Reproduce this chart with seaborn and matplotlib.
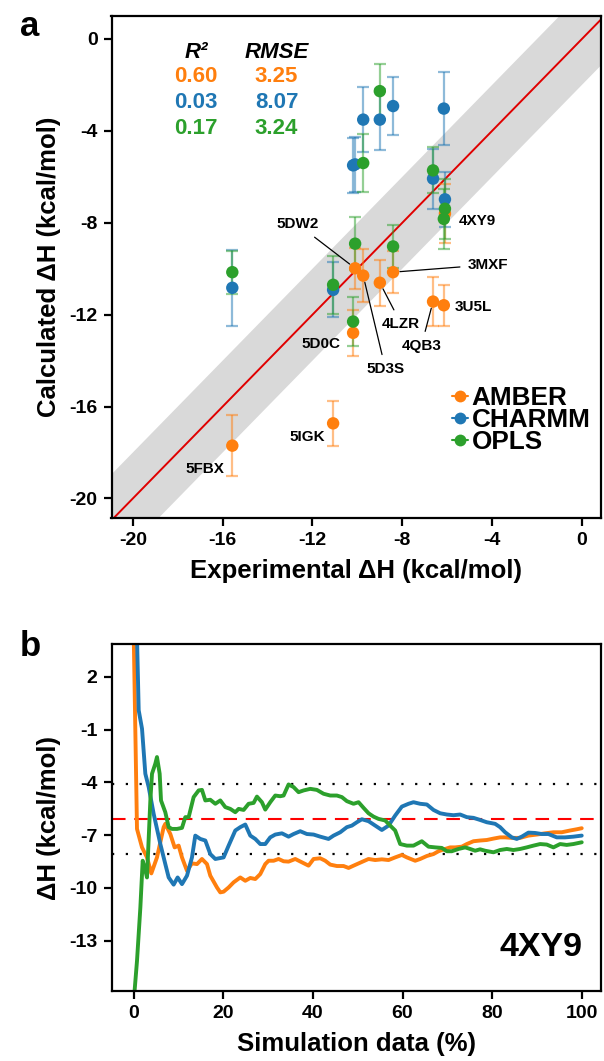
import numpy as np
import pandas as pd
import matplotlib
matplotlib.use("Agg")
import matplotlib.pyplot as plt
from matplotlib.lines import Line2D
import seaborn as sns

sns.set_style("ticks")
plt.rcParams['font.family'] = ['Liberation Sans', 'DejaVu Sans']
plt.rcParams['font.weight'] = 'bold'
plt.rcParams['axes.unicode_minus'] = False
for k in ['text.color', 'axes.labelcolor', 'xtick.color', 'ytick.color', 'axes.edgecolor']:
    plt.rcParams[k] = 'black'

# ---------------- Panel a data ----------------
compounds = ["5FBX", "5IGK", "5D0C", "5DW2", "5D3S", "4LZR", "3MXF", "4QB3", "3U5L", "4XY9"]
exp_dh = [-15.57, -11.08, -10.19, -10.10, -9.74, -9.00, -8.41, -6.63, -6.15, -6.10]
amber = [-17.70, -16.73, -12.79, -9.98, -10.30, -10.61, -10.15, -11.43, -11.59, -7.60]
amber_err = [1.34, 0.97, 1.00, 0.90, 1.16, 1.00, 0.90, 1.05, 0.90, 1.30]
charmm = [-10.83, -10.92, -5.50, -5.46, -3.51, -3.51, -2.92, -6.08, -3.03, -6.98]
charmm_err = [1.65, 1.20, 1.20, 1.20, 1.40, 1.34, 1.25, 1.30, 1.60, 1.20]
opls = [-10.15, -10.70, -12.30, -8.91, -5.40, -2.27, -9.03, -5.72, -7.83, -7.39]
opls_err = [0.94, 1.25, 1.05, 1.15, 1.25, 1.20, 0.92, 1.00, 1.30, 1.30]

force_fields = ["AMBER", "CHARMM", "OPLS"]
colors = ["#ff7f0e", "#1f77b4", "#2ca02c"]
r2_vals = ["0.60", "0.03", "0.17"]
rmse_vals = ["3.25", "8.07", "3.24"]
band_halfwidth = 2.0

# ---------------- Panel b data (4XY9 running average) ----------------
amber_x = [0.0, 0.74, 1.86, 2.97, 3.94, 5.20, 6.69, 7.06, 8.18, 9.14, 10.04, 10.78, 11.90, 13.01, 14.13,
           15.24, 16.36, 17.10, 18.59, 19.33, 20.07, 21.19, 22.30, 23.79, 24.91, 26.02, 27.14, 28.25,
           29.37, 30.11, 31.23, 32.34, 33.46, 34.57, 36.06, 37.55, 39.03, 40.15, 41.64, 42.75, 43.87,
           45.35, 46.84, 47.96, 49.07, 50.56, 52.42, 53.90, 55.39, 56.88, 58.36, 59.85, 60.97, 62.83,
           63.94, 65.43, 66.91, 68.03, 69.52, 70.63, 71.75, 73.23, 74.35, 75.84, 77.32, 78.81, 80.30,
           81.78, 82.90, 84.39, 86.25, 88.10, 89.96, 91.82, 93.68, 95.54, 97.40, 98.88, 100.0]
amber_y = [4.5, -6.65, -7.70, -8.27, -9.18, -8.27, -6.55, -6.36, -6.94, -7.70, -7.60, -8.27, -9.03, -8.61,
           -8.65, -8.36, -8.65, -9.31, -9.98, -10.26, -10.22, -9.98, -9.69, -9.41, -9.60, -9.44, -9.50,
           -9.22, -8.65, -8.46, -8.46, -8.36, -8.49, -8.51, -8.36, -8.55, -8.74, -8.36, -8.32, -8.46,
           -8.68, -8.76, -8.76, -8.87, -8.74, -8.57, -8.36, -8.42, -8.38, -8.42, -8.27, -8.13, -8.27,
           -8.46, -8.36, -8.19, -8.08, -7.92, -7.79, -7.70, -7.70, -7.66, -7.51, -7.35, -7.31, -7.28,
           -7.20, -7.13, -7.13, -7.16, -7.16, -7.03, -6.97, -6.90, -6.84, -6.84, -6.74, -6.67, -6.61]

charmm_x = [0.4, 1.12, 1.86, 2.60, 3.35, 4.46, 5.95, 7.06, 7.81, 8.92, 9.81, 10.78, 11.90, 13.01, 13.75,
            14.87, 15.99, 17.10, 18.22, 20.07, 21.19, 22.68, 23.79, 24.91, 26.02, 27.14, 28.25, 29.37,
            30.48, 31.60, 33.09, 34.57, 35.69, 37.17, 38.66, 40.15, 41.64, 43.49, 44.61, 46.10, 47.58,
            48.70, 49.81, 50.93, 52.42, 53.90, 55.39, 56.88, 58.36, 59.85, 61.34, 62.45, 63.94, 65.43,
            66.91, 68.40, 69.89, 71.38, 72.86, 74.35, 75.84, 77.32, 78.81, 80.67, 81.78, 82.90, 84.39,
            85.50, 86.62, 88.10, 89.59, 91.08, 92.57, 94.42, 96.28, 98.14, 100.0]
charmm_y = [8.0, 0.10, -0.95, -3.51, -4.27, -5.79, -7.51, -8.65, -9.41, -9.82, -9.41, -9.79, -9.31, -8.27,
            -7.03, -7.22, -7.31, -8.08, -8.36, -8.27, -7.60, -6.74, -6.55, -6.40, -7.03, -7.22, -7.51,
            -7.51, -7.13, -6.97, -6.90, -7.09, -6.94, -6.78, -6.94, -6.97, -7.09, -7.22, -7.03, -6.84,
            -6.55, -6.46, -6.27, -6.10, -6.21, -6.46, -6.71, -6.46, -5.89, -5.38, -5.22, -5.13, -5.22,
            -5.26, -5.57, -5.76, -5.83, -5.87, -5.83, -5.98, -6.02, -6.14, -6.27, -6.36, -6.55, -6.84,
            -7.13, -7.22, -7.09, -6.86, -6.88, -6.94, -6.94, -7.13, -7.13, -7.09, -7.03]

opls_x = [0.0, 0.74, 1.49, 2.01, 2.45, 2.97, 3.72, 4.09, 4.83, 5.20, 5.80, 6.10, 7.06, 7.81, 8.55, 9.67,
          10.78, 11.52, 12.27, 13.38, 14.50, 15.24, 15.99, 17.10, 18.22, 19.33, 20.45, 21.56, 22.68,
          23.42, 24.54, 25.65, 26.77, 27.51, 28.62, 29.37, 30.48, 31.60, 32.71, 33.46, 34.57, 35.69,
          36.80, 37.92, 39.41, 40.89, 42.38, 43.87, 45.35, 46.47, 47.58, 49.07, 50.19, 51.30, 52.42,
          53.53, 54.65, 56.13, 57.25, 58.36, 59.48, 60.97, 62.45, 64.31, 65.80, 67.29, 68.77, 69.89,
          71.00, 72.49, 73.98, 75.09, 76.21, 77.32, 78.44, 80.30, 81.78, 83.27, 84.76, 86.25, 87.73,
          89.22, 90.71, 92.19, 93.68, 95.17, 96.65, 98.14, 100.0]
opls_y = [-16.5, -14.16, -11.12, -8.46, -8.84, -9.41, -5.03, -3.51, -2.94, -2.56, -3.51, -5.03, -5.70, -6.55,
          -6.65, -6.65, -6.59, -5.98, -5.98, -4.84, -4.46, -4.43, -5.03, -4.99, -5.22, -5.03, -5.41,
          -5.51, -5.70, -5.51, -5.57, -5.22, -5.17, -4.81, -5.13, -5.55, -5.13, -4.75, -4.79, -4.75,
          -4.12, -4.27, -4.56, -4.46, -4.37, -4.43, -4.65, -4.75, -4.75, -4.84, -5.07, -5.22, -5.13,
          -5.45, -5.76, -5.95, -6.08, -6.17, -6.46, -6.74, -7.51, -7.60, -7.60, -7.35, -7.66, -7.70,
          -7.73, -7.92, -7.92, -7.79, -7.70, -7.79, -7.89, -7.81, -7.89, -7.98, -7.85, -7.79, -7.85,
          -7.79, -7.70, -7.60, -7.51, -7.54, -7.70, -7.51, -7.56, -7.51, -7.41]

exp_4xy9 = -6.09

# ---------------- Figure ----------------
W, H = 604, 1061
fig = plt.figure(figsize=(W / 100, H / 100), dpi=100)

def box(l, t, r, b):
    return [l / W, 1 - b / H, (r - l) / W, (b - t) / H]

ax1 = fig.add_axes(box(111.5, 16, 601, 518))
ax2 = fig.add_axes(box(111.5, 644, 601, 991))

tick_fs = 14
label_fs = 18.5

# --- Panel a ---
xlim_a = (-20.95, 0.85)
ylim_a = (-20.85, 1.0)
xx = np.array([-25.0, 5.0])
ax1.fill_between(xx, xx - band_halfwidth, xx + band_halfwidth, color="#d9d9d9", lw=0, zorder=0)
ax1.plot(xx, xx, color="#e00000", lw=1.4, zorder=1)

vals = [amber, charmm, opls]
errs = [amber_err, charmm_err, opls_err]
rows = []
for ff, v in zip(force_fields, vals):
    for c, e, y in zip(compounds, exp_dh, v):
        rows.append(dict(compound=c, exp=e, calc=y, ff=ff))
dfa = pd.DataFrame(rows)

for ff, v, er, col in zip(force_fields, vals, errs, colors):
    ax1.errorbar(exp_dh, v, yerr=er, fmt="none", ecolor=col, alpha=0.5, elinewidth=1.6,
                 capsize=4.2, capthick=1.6, zorder=2)
sns.scatterplot(data=dfa, x="exp", y="calc", hue="ff", hue_order=force_fields,
                palette=dict(zip(force_fields, colors)), s=80, edgecolor="none",
                legend=False, ax=ax1, zorder=3)

ax1.set_xlim(*xlim_a)
ax1.set_ylim(*ylim_a)
ax1.set_xticks([-20, -16, -12, -8, -4, 0])
ax1.set_yticks([0, -4, -8, -12, -16, -20])
ax1.set_xlabel("Experimental ΔH (kcal/mol)", fontsize=label_fs, fontweight="bold", labelpad=7)
ax1.set_ylabel("Calculated ΔH (kcal/mol)", fontsize=label_fs, fontweight="bold", labelpad=6)

# compound labels
lab_fs = 11
def lab(text, tx, ty, ha="center", px=None, py=None):
    if px is None:
        ax1.text(tx, ty, text, ha=ha, va="center", fontsize=lab_fs, fontweight="bold", zorder=5)
    else:
        ax1.annotate(text, xy=(px, py), xytext=(tx, ty), ha=ha, va="center", fontsize=lab_fs,
                     fontweight="bold", zorder=5,
                     arrowprops=dict(arrowstyle="-", color="black", lw=0.9, shrinkA=3, shrinkB=5))

lab("5DW2", -12.65, -8.07, px=exp_dh[3], py=amber[3])
lab("3MXF", -4.2, -9.83, px=exp_dh[6], py=amber[6])
lab("4LZR", -8.05, -12.40, px=exp_dh[5], py=amber[5])
lab("5D3S", -8.75, -14.36, px=exp_dh[4], py=amber[4])
lab("4QB3", -7.15, -13.35, px=exp_dh[7], py=amber[7])
lab("3U5L", -4.82, -11.65)
lab("4XY9", -4.64, -7.91)
lab("5D0C", -11.6, -13.27)
lab("5IGK", -12.25, -17.34)
lab("5FBX", -16.8, -18.72)

# R2 / RMSE table
tab_fs = 16
ax1.text(-17.18, -0.57, "R²", ha="center", va="center", fontsize=tab_fs, fontweight="bold", style="italic")
ax1.text(-13.6, -0.57, "RMSE", ha="center", va="center", fontsize=tab_fs, fontweight="bold", style="italic")
for i, (r2, rm, col) in enumerate(zip(r2_vals, rmse_vals, colors)):
    yy = -1.64 - 1.12 * i
    ax1.text(-17.18, yy, r2, ha="center", va="center", fontsize=tab_fs, fontweight="bold", color=col)
    ax1.text(-13.6, yy, rm, ha="center", va="center", fontsize=tab_fs, fontweight="bold", color=col)

handles = [Line2D([0], [0], color=c, marker="o", markersize=8.5, lw=1.5,
                  markeredgecolor="none") for c in colors]
leg = ax1.legend(handles, force_fields, loc="upper left", bbox_to_anchor=(0.669, 0.288),
                 frameon=False, handlelength=0.6, handletextpad=0.15, labelspacing=-0.08,
                 prop=dict(family="Liberation Sans", weight="bold", size=18.8), borderpad=0)

# --- Panel b ---
dfb = pd.concat([
    pd.DataFrame(dict(pct=amber_x, dh=amber_y, ff="AMBER")),
    pd.DataFrame(dict(pct=charmm_x, dh=charmm_y, ff="CHARMM")),
    pd.DataFrame(dict(pct=opls_x, dh=opls_y, ff="OPLS")),
], ignore_index=True)

ax2.axhline(exp_4xy9, color="#ff0000", lw=1.5, ls=(0, (6.5, 4.2)), zorder=1)
ax2.axhline(exp_4xy9 + band_halfwidth, color="black", lw=1.6, ls=(0, (1, 5.2)), zorder=1)
ax2.axhline(exp_4xy9 - band_halfwidth, color="black", lw=1.6, ls=(0, (1, 5.2)), zorder=1)
sns.lineplot(data=dfb, x="pct", y="dh", hue="ff", hue_order=force_fields,
             palette=dict(zip(force_fields, colors)), estimator=None, sort=False,
             lw=2.8, legend=False, ax=ax2, zorder=2)
ax2.set_xlim(-4.95, 104.3)
ax2.set_ylim(-15.87, 3.87)
ax2.set_xticks([0, 20, 40, 60, 80, 100])
ax2.set_yticks([2, -1, -4, -7, -10, -13])
ax2.set_xlabel("Simulation data (%)", fontsize=label_fs, fontweight="bold", labelpad=7)
ax2.set_ylabel("ΔH (kcal/mol)", fontsize=label_fs, fontweight="bold", labelpad=6)
ax2.text(0.878, 0.125, "4XY9", transform=ax2.transAxes, ha="center", va="center",
         fontsize=24.5, fontweight="bold")

for ax in (ax1, ax2):
    for sp in ax.spines.values():
        sp.set_visible(True)
        sp.set_linewidth(1.6)
        sp.set_color("black")
    ax.tick_params(axis="both", length=6, width=1.6, direction="out", labelsize=tick_fs, pad=4,
                   colors="black")
    for t in ax.get_xticklabels() + ax.get_yticklabels():
        t.set_fontweight("bold")

fig.text(20 / W, 1 - 26 / H, "a", fontsize=25, fontweight="bold", ha="left", va="center")
fig.text(20 / W, 1 - 646 / H, "b", fontsize=25, fontweight="bold", ha="left", va="center")

fig.savefig("out.png", dpi=100)
